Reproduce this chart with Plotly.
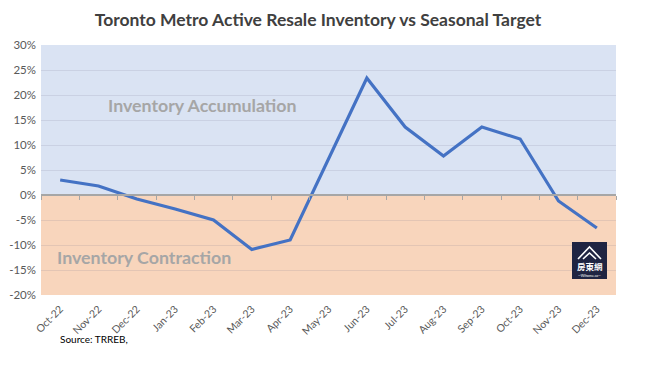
import plotly.graph_objects as go

months = ["Oct-22", "Nov-22", "Dec-22", "Jan-23", "Feb-23", "Mar-23", "Apr-23", "May-23",
          "Jun-23", "Jul-23", "Aug-23", "Sep-23", "Oct-23", "Nov-23", "Dec-23"]
pct_vs_target = [3.0, 1.8, -0.8, -2.8, -5.0, -10.9, -9.0, 7.2,
                 23.4, 13.6, 7.8, 13.6, 11.2, -1.2, -6.6]
y_ticks = [30, 25, 20, 15, 10, 5, 0, -5, -10, -15, -20]
y_labels = [f"{v}%" for v in y_ticks]

OFF = 8  # page body margin
W, H = 660 - OFF, 370 - OFF
# plot area in page pixels: x 41..616, y 45..295
L, T = 41 - OFF, 45 - OFF
R, B = W - (616 - OFF), H - (295 - OFF)
pw, ph = W - L - R, H - T - B

def px(x):  # page pixel -> paper
    return (x - OFF - L) / pw

def py(y):
    return (H - B - (y - OFF)) / ph

fig = go.Figure()
fig.add_trace(go.Scatter(x=months, y=pct_vs_target, mode="lines",
                         line=dict(color="#4472C4", width=3.2), hoverinfo="skip"))
# invisible trace for the zero-line tick axis
fig.add_trace(go.Scatter(x=months, y=[0] * len(months), xaxis="x2", mode="lines",
                         line=dict(width=0), opacity=0, hoverinfo="skip"))

font = "Lato, 'Open Sans', sans-serif"
fig.update_layout(
    width=W, height=H,
    margin=dict(l=L, r=R, t=T, b=B, autoexpand=False),
    paper_bgcolor="white", plot_bgcolor="white",
    showlegend=False,
    font=dict(family=font, color="#595959"),
    title=dict(text="<b>Toronto Metro Active Resale Inventory vs Seasonal Target</b>",
               x=0.5 + (318 - (W / 2 + OFF)) / W, xanchor="center",
               y=1 - (20 - OFF) / H, yanchor="middle",
               font=dict(size=17.5, color="#404040", family=font)),
    xaxis=dict(type="category", categoryarray=months, tickangle=-45, automargin=False,
               showgrid=False, showline=False, zeroline=False, ticks="",
               ticklabelstandoff=5,
               tickfont=dict(size=10.5, color="#595959"), range=[-0.5, 14.5]),
    xaxis2=dict(type="category", categoryarray=months, overlaying="x", anchor="free",
                position=20 / 50, showticklabels=False, ticks="outside", ticklen=4,
                tickcolor="#A6A6A6", tickson="boundaries", showline=True, automargin=False,
                linecolor="#A6A6A6", linewidth=1.5, showgrid=False, range=[-0.5, 14.5]),
    yaxis=dict(range=[-20, 30], tickvals=y_ticks, ticktext=y_labels, automargin=False,
               showgrid=True, gridcolor="rgba(120,120,140,0.16)", gridwidth=1,
               zeroline=False, showline=False, ticks="", ticklabelstandoff=4,
               tickfont=dict(size=11.5, color="#595959")),
)

fig.add_shape(type="rect", xref="paper", yref="y", x0=0, x1=1, y0=0, y1=30,
              fillcolor="#DAE3F3", line_width=0, layer="below")
fig.add_shape(type="rect", xref="paper", yref="y", x0=0, x1=1, y0=-20, y1=0,
              fillcolor="#F8D5BC", line_width=0, layer="below")

fig.add_annotation(text="<b>Inventory Accumulation</b>", xref="paper", yref="y",
                   x=px(106), y=18, xanchor="left", yanchor="middle", showarrow=False,
                   font=dict(size=17.8, color="#A6A6A6", family=font))
fig.add_annotation(text="<b>Inventory Contraction</b>", xref="paper", yref="y",
                   x=px(55), y=-12.3, xanchor="left", yanchor="middle", showarrow=False,
                   font=dict(size=17.8, color="#A6A6A6", family=font))
fig.add_annotation(text="Source: TRREB,", xref="paper", yref="paper",
                   x=px(58), y=py(339), xanchor="left", yanchor="middle", showarrow=False,
                   font=dict(size=10, color="#000000", family=font))

# logo badge
fig.add_shape(type="rect", xref="paper", yref="paper", x0=px(572), x1=px(607),
              y0=py(279), y1=py(242), fillcolor="#1F2442", line_width=0, layer="above")
roof = (f"M {px(578)} {py(259)} L {px(589.5)} {py(247)} L {px(601)} {py(259)} "
        f"M {px(583)} {py(259)} L {px(589.5)} {py(253)} L {px(596)} {py(259)}")
fig.add_shape(type="path", xref="paper", yref="paper", path=roof,
              line=dict(color="white", width=1.6), layer="above")
fig.add_annotation(text="<b>房東網</b>", xref="paper", yref="paper",
                   x=px(589.5), y=py(265.5), xanchor="center", yanchor="middle", showarrow=False,
                   borderpad=0, font=dict(size=8.5, color="white", family="Noto Sans CJK TC"))
fig.add_annotation(text="—Wihome.ca—", xref="paper", yref="paper",
                   x=px(589.5), y=py(275.5), xanchor="center", yanchor="middle", showarrow=False,
                   borderpad=0, font=dict(size=3.5, color="white", family=font))

fig.write_html("out.html")
